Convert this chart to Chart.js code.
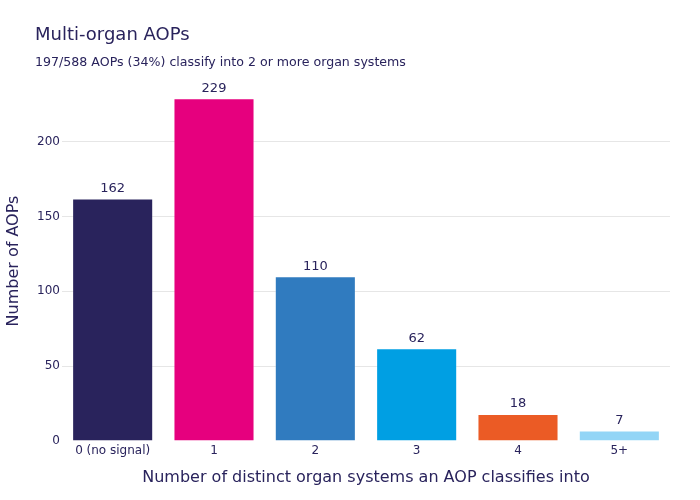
<!DOCTYPE html>
<html><head><meta charset="utf-8">
<script src="https://cdn.jsdelivr.net/npm/chart.js@4"></script>
<style>html,body{margin:0;padding:0;background:#fff}#wrap{width:700px;height:500px}</style>
</head><body><div id="wrap"><canvas id="c" width="700" height="500"></canvas></div>
<script>
const categories = ["0 (no signal)", "1", "2", "3", "4", "5+"];
const aopCounts = [162, 229, 110, 62, 18, 7];
const barColors = ["#29235C", "#E6007E", "#307BBF", "#009FE3", "#EB5B25", "#93D5F6"];
const yTicks = [0, 50, 100, 150, 200];
const titleText = "Multi-organ AOPs";
const subtitleText = "197/588 AOPs (34%) classify into 2 or more organ systems";
const textColor = "#29235C";
const FONT = "'DejaVu Sans', sans-serif";

const overlay = {
  id: 'overlay',
  afterDatasetsDraw(chart) {
    const ctx = chart.ctx;
    ctx.save();
    ctx.fillStyle = textColor;
    ctx.textAlign = 'left';
    ctx.textBaseline = 'middle';
    ctx.font = "18px " + FONT;
    ctx.fillText(titleText, 35, 35);
    ctx.font = "12.6px " + FONT;
    ctx.fillText(subtitleText, 35, 63);
    const meta = chart.getDatasetMeta(0);
    ctx.textAlign = 'center';
    ctx.textBaseline = 'middle';
    ctx.font = "13px " + FONT;
    meta.data.forEach((bar, i) => {
      ctx.fillText(String(aopCounts[i]), bar.x, bar.y - 10);
    });
    ctx.restore();
  }
};

new Chart(document.getElementById('c'), {
  type: 'bar',
  data: {
    labels: categories,
    datasets: [{
      data: aopCounts,
      backgroundColor: barColors,
      borderColor: "rgba(255,255,255,0.25)",
      borderWidth: 1,
      categoryPercentage: 0.8,
      barPercentage: 1.0
    }]
  },
  options: {
    responsive: false,
    animation: false,
    devicePixelRatio: 1,
    layout: { padding: { top: 81, right: 30, left: 0, bottom: 13 } },
    plugins: { legend: { display: false }, tooltip: { enabled: false } },
    scales: {
      x: {
        grid: { display: false, drawTicks: false },
        border: { display: false },
        ticks: { color: textColor, font: { family: FONT, size: 12 }, padding: 3 },
        title: { display: true, text: "Number of distinct organ systems an AOP classifies into",
                 color: textColor, font: { family: FONT, size: 16 }, padding: { top: 4, bottom: 0 } },
        afterFit(s) { s.height = 46; }
      },
      y: {
        min: 0, max: 240.5,
        grid: { drawTicks: false, lineWidth: 1,
                color: (c) => c.tick && c.tick.value === 0 ? 'rgba(0,0,0,0)' : '#E6E6E6' },
        border: { display: false },
        ticks: { color: textColor, font: { family: FONT, size: 12 }, padding: 2 },
        afterBuildTicks(s) { s.ticks = yTicks.map(v => ({ value: v })); },
        title: { display: true, text: "Number of AOPs", color: textColor,
                 font: { family: FONT, size: 16 }, padding: { top: 4, bottom: 0 } },
        afterFit(s) { s.width = 62; }
      }
    }
  },
  plugins: [overlay]
});
</script></body></html>
